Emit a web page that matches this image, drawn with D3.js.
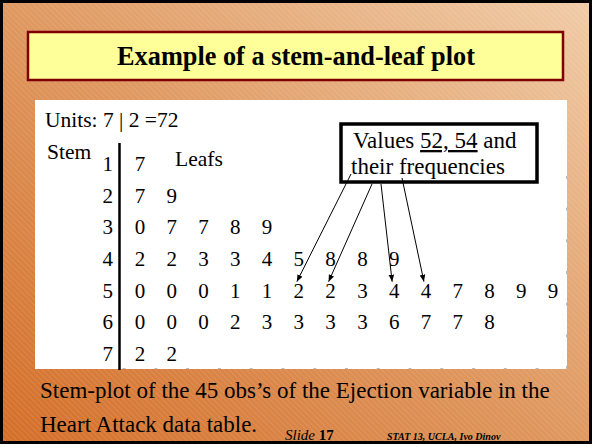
<!DOCTYPE html>
<html><head><meta charset="utf-8">
<script src="https://cdn.jsdelivr.net/npm/d3@7"></script>
<style>html,body{margin:0;padding:0;background:#fff;}svg{display:block;}</style>
</head><body>
<script>
// ---- data ----
const stems = [1, 2, 3, 4, 5, 6, 7];
const leaves = [
  [7],
  [7, 9],
  [0, 7, 7, 8, 9],
  [2, 2, 3, 3, 4, 5, 8, 8, 9],
  [0, 0, 0, 1, 1, 2, 2, 3, 4, 4, 7, 8, 9, 9],
  [0, 0, 0, 2, 3, 3, 3, 3, 6, 7, 7, 8],
  [2, 2]
];
const highlightValues = [52, 54];
const titleText = "Example of a stem-and-leaf plot";
const unitsText = "Units: 7 | 2 =72";
const captionLines = ["Stem-plot of the 45 obs\u2019s of the Ejection variable in the", "Heart Attack data table."];

const W = 592, H = 444;
const svg = d3.select("body").append("svg").attr("width", W).attr("height", H);
const defs = svg.append("defs");

// background gradient + hatch
const grad = defs.append("linearGradient").attr("id", "bg").attr("x1", "0").attr("y1", "1").attr("x2", "1").attr("y2", "0");
grad.append("stop").attr("offset", "0").attr("stop-color", "#d46e28");
grad.append("stop").attr("offset", "0.5").attr("stop-color", "#df9860");
grad.append("stop").attr("offset", "1").attr("stop-color", "#f0cca8");
const pat = defs.append("pattern").attr("id", "hatch").attr("patternUnits", "userSpaceOnUse")
  .attr("width", 4).attr("height", 4).attr("patternTransform", "rotate(-45)");
pat.append("line").attr("x1", 0).attr("y1", 0).attr("x2", 0).attr("y2", 4)
  .attr("stroke", "#fff").attr("stroke-width", 1).attr("stroke-opacity", 0.22);
const mk = defs.append("marker").attr("id", "arr").attr("viewBox", "0 0 10 10")
  .attr("refX", 10).attr("refY", 5).attr("markerWidth", 7).attr("markerHeight", 7)
  .attr("orient", "auto").attr("markerUnits", "userSpaceOnUse");
mk.append("path").attr("d", "M0,1 L10,5 L0,9 Z").attr("fill", "#000");

svg.append("rect").attr("width", W).attr("height", H).attr("fill", "url(#bg)");
svg.append("rect").attr("width", W).attr("height", H).attr("fill", "url(#hatch)");
svg.append("rect").attr("x", 1.5).attr("y", 1.5).attr("width", W - 3).attr("height", H - 3)
  .attr("fill", "none").attr("stroke", "#000").attr("stroke-width", 3);

// title
svg.append("rect").attr("x", 28).attr("y", 32).attr("width", 535).attr("height", 48)
  .attr("fill", "#ffff99").attr("stroke", "#800000").attr("stroke-width", 2.5);
svg.append("text").attr("x", 296).attr("y", 65).attr("text-anchor", "middle")
  .attr("font-family", "Liberation Serif, Times New Roman, serif").attr("font-weight", "bold")
  .attr("font-size", 26.3).attr("fill", "#000").text(titleText);

// panel
const panel = {x: 35, y: 100, w: 532, h: 269};
svg.append("rect").attr("x", panel.x).attr("y", panel.y).attr("width", panel.w).attr("height", panel.h)
  .attr("fill", "#fff");

const serif = "Liberation Serif, Times New Roman, serif";
const y = d3.scaleLinear().domain([1, 7]).range([171, 361]);
const x = d3.scaleLinear().domain([0, 13]).range([140, 553]);

// faint table marks along panel edges
const colBounds = d3.range(0, 14).map(i => x(i) - (x(1) - x(0)) / 2);
svg.selectAll("rect.cb").data(colBounds).join("rect").attr("class", "cb")
  .attr("x", d => d - 1.5).attr("y", panel.y + panel.h - 1).attr("width", 3).attr("height", 1)
  .attr("fill", "#bbb");
const rowBounds = stems.map(s => y(s) + 6);
svg.selectAll("rect.rb").data(rowBounds).join("rect").attr("class", "rb")
  .attr("x", panel.x + panel.w - 1).attr("y", d => d - 1).attr("width", 1).attr("height", 3)
  .attr("fill", "#bbb");

svg.append("text").attr("x", 45).attr("y", 127).attr("font-family", serif).attr("font-size", 21.5).text(unitsText);
svg.append("text").attr("x", 47).attr("y", 159).attr("font-family", serif).attr("font-size", 21.5).text("Stem");
svg.append("text").attr("x", 175).attr("y", 166).attr("font-family", serif).attr("font-size", 21.5).text("Leafs");

// stem line
svg.append("line").attr("x1", 119.5).attr("x2", 119.5).attr("y1", 143).attr("y2", 370)
  .attr("stroke", "#000").attr("stroke-width", 2.5);

// stems
svg.selectAll("text.stem").data(stems).join("text").attr("class", "stem")
  .attr("x", 113).attr("y", d => y(d)).attr("text-anchor", "end")
  .attr("font-family", serif).attr("font-size", 21).text(d => d);

// leaves
const cells = [];
stems.forEach((s, r) => leaves[r].forEach((l, i) => cells.push({stem: s, leaf: l, i})));
svg.selectAll("text.leaf").data(cells).join("text").attr("class", "leaf")
  .attr("x", d => x(d.i)).attr("y", d => y(d.stem)).attr("text-anchor", "middle")
  .attr("font-family", serif).attr("font-size", 21).text(d => d.leaf);

// annotation box
svg.append("rect").attr("x", 341).attr("y", 124).attr("width", 196).attr("height", 58)
  .attr("fill", "#fff").attr("stroke", "#000").attr("stroke-width", 3.5);
const t1 = svg.append("text").attr("x", 353).attr("y", 148).attr("font-family", serif).attr("font-size", 23);
t1.append("tspan").text("Values ");
t1.append("tspan").attr("text-decoration", "underline").text(highlightValues.join(", "));
t1.append("tspan").text(" and");
svg.append("text").attr("x", 351).attr("y", 174).attr("font-family", serif).attr("font-size", 23).text("their frequencies");

// arrows to highlighted leaves
const targets = cells.filter(c => highlightValues.includes(c.stem * 10 + c.leaf));
const sources = [[351, 174], [372, 184], [381, 184], [402, 178]];
svg.selectAll("line.arrow").data(targets).join("line").attr("class", "arrow")
  .attr("x1", (d, k) => sources[k][0]).attr("y1", (d, k) => sources[k][1])
  .attr("x2", d => x(d.i) - 2).attr("y2", d => y(d.stem) - 16)
  .attr("stroke", "#000").attr("stroke-width", 1).attr("marker-end", "url(#arr)");

// caption
svg.selectAll("text.cap").data(captionLines).join("text").attr("class", "cap")
  .attr("x", 40).attr("y", (d, i) => 398 + i * 34)
  .attr("font-family", serif).attr("font-size", 23).text(d => d);

// footer
const ft = svg.append("text").attr("x", 285).attr("y", 440).attr("font-family", serif).attr("font-size", 15);
ft.append("tspan").attr("font-style", "italic").text("Slide ");
ft.append("tspan").attr("font-weight", "bold").text("17");
svg.append("text").attr("x", 387).attr("y", 440).attr("font-family", serif).attr("font-size", 10)
  .attr("font-style", "italic").attr("font-weight", "bold").text("STAT 13, UCLA, Ivo Dinov");
</script>
</body></html>
